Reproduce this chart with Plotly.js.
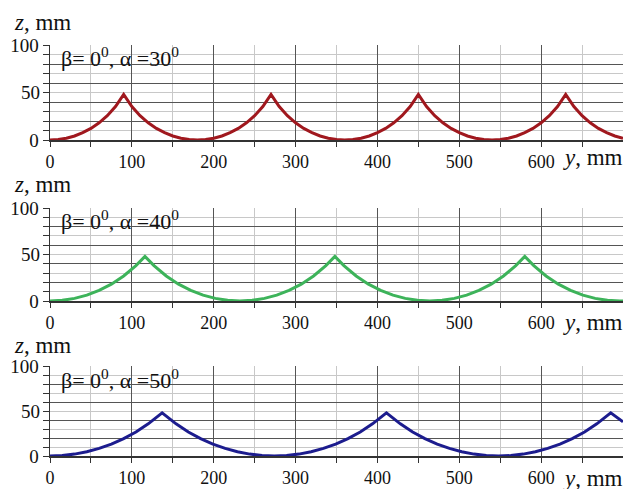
<!DOCTYPE html>
<html>
<head>
<meta charset="utf-8">
<script src="https://cdn.plot.ly/plotly-3.0.1.min.js"></script>
<style>html,body{margin:0;padding:0;background:#fff;}#chart{width:623px;height:489px;}</style>
</head>
<body>
<div id="chart"></div>
<script>
// Series 1: beta=0, alpha=30
const y1 = [0,10,20,30,40,50,60,70,80,90,100,110,120,130,140,150,160,170,180,190,200,210,220,230,240,250,260,270,280,290,300,310,320,330,340,350,360,370,380,390,400,410,420,430,440,450,460,470,480,490,500,510,520,530,540,550,560,570,580,590,600,610,620,630,640,650,660,670,680,690,700];
const z1 = [0,0.5,1.9,4.2,7.7,12.2,18.1,25.6,35.3,48,35.3,25.6,18.1,12.2,7.7,4.2,1.9,0.5,0,0.5,1.9,4.2,7.7,12.2,18.1,25.6,35.3,48,35.3,25.6,18.1,12.2,7.7,4.2,1.9,0.5,0,0.5,1.9,4.2,7.7,12.2,18.1,25.6,35.3,48,35.3,25.6,18.1,12.2,7.7,4.2,1.9,0.5,0,0.5,1.9,4.2,7.7,12.2,18.1,25.6,35.3,48,35.3,25.6,18.1,12.2,7.7,4.2,1.9];
// Series 2: beta=0, alpha=40
const y2 = [0,15,30,45,60,75,90,105,116,127,142,157,172,187,202,217,232,247,262,277,292,307,322,337,348,359,374,389,404,419,434,449,464,479,494,509,524,539,554,569,580,591,606,621,636,651,666,681,696,700];
const z2 = [0,0.7,2.8,6.3,11.4,18.1,26.9,38,48,38,26.9,18.1,11.4,6.3,2.8,0.7,0,0.7,2.8,6.3,11.4,18.1,26.9,38,48,38,26.9,18.1,11.4,6.3,2.8,0.7,0,0.7,2.8,6.3,11.4,18.1,26.9,38,48,38,26.9,18.1,11.4,6.3,2.8,0.7,0,0];
// Series 3: beta=0, alpha=50
const y3 = [0,15,30,45,60,75,90,105,120,137,154,169,184,199,214,229,244,259,274,289,304,319,334,349,364,379,394,411,428,443,458,473,488,503,518,533,548,563,578,593,608,623,638,653,668,685,700];
const z3 = [0,0.5,2.1,4.7,8.4,13.2,19.3,26.7,35.7,48,35.7,26.7,19.3,13.2,8.4,4.7,2.1,0.5,0,0.5,2.1,4.7,8.4,13.2,19.3,26.7,35.7,48,35.7,26.7,19.3,13.2,8.4,4.7,2.1,0.5,0,0.5,2.1,4.7,8.4,13.2,19.3,26.7,35.7,48,38];

const xMajorTicks = [0,100,200,300,400,500,600];
const xMinorTicks = [50,150,250,350,450,550,650];
const yMajorTicks = [0,20,40,60,80,100];
const yMajorText = ['0','','','','','100'];
const yMinorTicks = [10,30,50,70,90];
const yMidLabel = '50';
const panelLabels = ['β= 0<sup>0</sup>, α =30<sup>0</sup>','β= 0<sup>0</sup>, α =40<sup>0</sup>','β= 0<sup>0</sup>, α =50<sup>0</sup>'];
const colors = ['#a0181e','#3db35a','#1c1c8e'];

const FONT = '"Liberation Serif", "Times New Roman", serif';
const H = 489;
const doms = [[45,140],[208,301],[366,456]].map(([t,b]) => [1-b/H, 1-t/H]);

function xax(anchor){
  return {
    anchor: anchor, domain:[0,1], range:[0,700], fixedrange:true,
    tickmode:'array', tickvals:xMajorTicks,
    showgrid:true, gridcolor:'#555', gridwidth:1,
    ticks:'outside', ticklen:5, tickcolor:'#333', tickwidth:1,
    showline:true, linecolor:'#333', linewidth:1.5, zeroline:false,
    tickfont:{family:FONT, size:18, color:'#111'},
    minor:{tickmode:'array', tickvals:xMinorTicks, ticks:'outside', ticklen:5, tickcolor:'#333', showgrid:true, gridcolor:'#c8c8c8', gridwidth:1}
  };
}
function yax(anchor, dom){
  return {
    anchor: anchor, domain: dom, range:[0,100], fixedrange:true,
    tickmode:'array', tickvals:yMajorTicks, ticktext:yMajorText,
    showgrid:true, gridcolor:'#555', gridwidth:1,
    ticks:'outside', ticklen:6, tickcolor:'#333', tickwidth:1,
    showline:true, linecolor:'#333', linewidth:1.5, zeroline:false,
    tickfont:{family:FONT, size:19, color:'#111'},
    minor:{tickmode:'array', tickvals:yMinorTicks, ticks:'outside', ticklen:6, tickcolor:'#333', showgrid:true, gridcolor:'#c8c8c8', gridwidth:1}
  };
}

const series = [[y1,z1],[y2,z2],[y3,z3]];
const data = series.map((s,i) => ({
  x: s[0], y: s[1], type:'scatter', mode:'lines',
  xaxis: i===0 ? 'x' : 'x'+(i+1), yaxis: i===0 ? 'y' : 'y'+(i+1),
  line:{color:colors[i], width:3}, hoverinfo:'skip', showlegend:false
}));

const annotations = [];
const zTitleY = [22,184,345];
const yTitleY = [157,322,478];
const panelY = [57,220,379];
for (let i=0;i<3;i++){
  const yr = i===0 ? 'y' : 'y'+(i+1);
  annotations.push({xref:'paper', yref:'paper', x:-38/573, y:1-zTitleY[i]/H, xanchor:'left', yanchor:'middle', showarrow:false,
    text:'<i>z</i>, mm', font:{family:FONT, size:23, color:'#111'}});
  annotations.push({xref:'paper', yref:'paper', x:(561-50)/573, y:1-yTitleY[i]/H, xanchor:'left', yanchor:'middle', showarrow:false,
    text:'<i>y</i>, mm', font:{family:FONT, size:23, color:'#111'}});
  annotations.push({xref:'paper', yref:'paper', x:(59-50)/573, y:1-panelY[i]/H, xanchor:'left', yanchor:'middle', showarrow:false,
    text:panelLabels[i], font:{family:FONT, size:22, color:'#111'}});
  annotations.push({xref:'paper', yref:yr, x:0, y:50, xanchor:'right', yanchor:'middle', xshift:-8, showarrow:false,
    text:yMidLabel, font:{family:FONT, size:19, color:'#111'}});
}

const layout = {
  width:623, height:489,
  margin:{l:50, r:0, t:0, b:0},
  paper_bgcolor:'#fff', plot_bgcolor:'#fff',
  showlegend:false,
  xaxis:xax('y'), xaxis2:xax('y2'), xaxis3:xax('y3'),
  yaxis:yax('x', doms[0]), yaxis2:yax('x2', doms[1]), yaxis3:yax('x3', doms[2]),
  annotations: annotations
};
Plotly.newPlot('chart', data, layout, {staticPlot:true, displayModeBar:false});
</script>
</body>
</html>
